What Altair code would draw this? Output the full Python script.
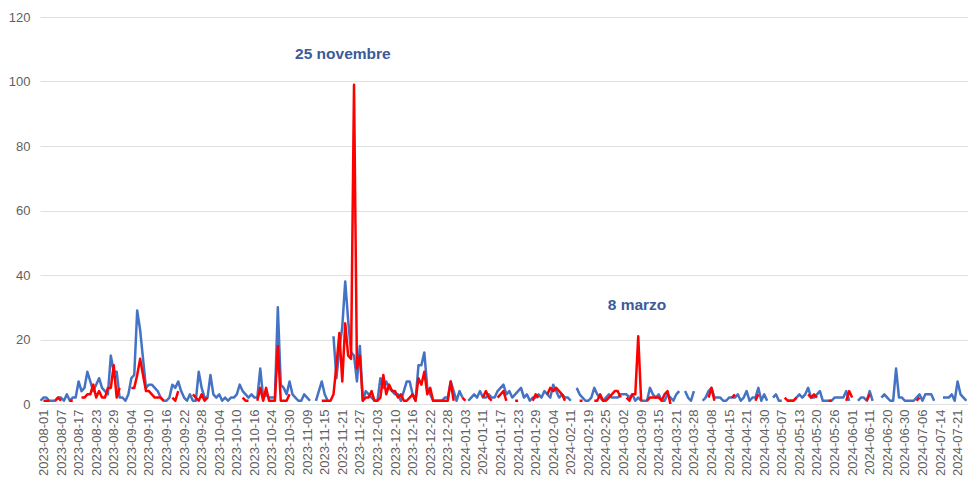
import altair as alt
import pandas as pd

# x-axis tick labels (one every 6 rows, first at row 1)
labels = ["2023-08-01","2023-08-07","2023-08-17","2023-08-23","2023-08-29","2023-09-04",
          "2023-09-10","2023-09-16","2023-09-22","2023-09-28","2023-10-04","2023-10-10",
          "2023-10-16","2023-10-24","2023-10-30","2023-11-09","2023-11-15","2023-11-21",
          "2023-11-27","2023-12-03","2023-12-10","2023-12-16","2023-12-22","2023-12-28",
          "2024-01-03","2024-01-11","2024-01-17","2024-01-23","2024-01-29","2024-02-04",
          "2024-02-11","2024-02-19","2024-02-25","2024-03-02","2024-03-09","2024-03-15",
          "2024-03-21","2024-03-28","2024-04-08","2024-04-15","2024-04-21","2024-04-30",
          "2024-05-07","2024-05-13","2024-05-20","2024-05-26","2024-06-01","2024-06-11",
          "2024-06-20","2024-06-30","2024-07-06","2024-07-14","2024-07-21"]

blue = [1,2,2,1,1,1,2,2,1,3,
        1,2,2,7,4,5,10,7,4,6,
        8,5,4,3,15,10,10,2,2,1,
        3,8,9,29,23,14,5,6,6,5,
        4,2,1,1,2,6,5,7,4,2,
        1,3,1,1,10,5,2,2,9,3,
        2,3,1,2,1,2,2,3,6,4,
        3,2,3,2,2,11,2,3,2,2,
        2,30,6,5,3,7,3,2,1,1,
        3,2,1,None,1,4,7,3,1,None,
        21,8,17,24,38,26,16,15,7,18,
        1,4,3,2,1,1,8,5,7,5,
        4,3,3,1,4,7,7,3,1,12,
        12,16,5,3,1,1,1,1,2,2,
        7,4,1,4,2,None,1,2,3,2,
        4,2,2,3,2,2,4,5,6,3,
        4,2,3,4,5,2,3,1,2,2,
        3,2,4,3,2,6,4,2,3,2,
        2,1,None,5,3,2,1,1,2,5,
        3,2,1,2,3,2,2,2,3,3,
        3,2,3,1,2,1,1,1,5,3,
        2,3,1,1,3,2,1,3,4,None,
        4,2,1,4,None,None,1,2,4,5,
        2,2,2,1,1,2,2,2,3,1,
        2,4,1,2,2,5,1,3,1,None,
        2,3,1,1,None,1,1,1,2,3,
        2,3,5,2,2,3,4,1,1,1,
        1,2,2,2,2,4,1,None,None,1,
        2,2,1,4,1,None,None,2,3,2,
        1,1,11,2,2,1,1,1,1,2,
        3,1,3,3,3,1,None,None,2,2,
        2,3,1,7,3,2,1,None,None,3,
        2,2,1]

red = [None,1,1,1,None,1,2,1,None,None,
       1,1,None,None,2,2,3,3,6,2,
       4,2,2,5,5,12,2,5,None,None,
       None,5,5,9,14,9,4,4,3,2,
       2,2,1,None,None,2,1,4,None,None,
       None,None,3,2,1,3,1,2,None,None,
       None,None,None,None,None,None,None,None,None,2,
       1,1,None,None,1,5,1,5,1,1,
       1,18,1,1,1,3,None,None,None,None,
       None,None,None,None,None,None,1,1,1,1,
       3,12,22,7,25,15,14,99,11,15,
       1,2,2,4,1,1,2,9,3,6,
       4,4,2,3,1,1,2,3,1,8,
       6,10,3,5,1,1,1,1,1,1,
       7,1,None,None,2,1,None,None,None,None,
       None,2,4,2,1,None,2,3,4,1,
       None,None,1,1,None,None,None,None,1,3,
       2,None,None,3,5,4,5,4,3,1,
       None,None,None,None,1,1,None,None,None,1,
       1,3,1,1,2,3,4,4,2,None,
       2,1,3,3,21,1,None,1,2,2,
       2,2,1,3,4,0,None,None,None,None,
       None,None,None,None,None,None,None,None,2,5,
       1,None,None,None,None,None,2,3,None,None,
       None,None,None,None,1,3,None,None,None,None,
       None,None,None,None,2,1,1,1,2,None,
       None,None,3,2,3,2,None,None,None,1,
       1,None,None,None,None,1,4,2,None,None,
       None,None,1,3,None,None,None,None,None,None,
       None,None,None,None,None,None,None,None,None,1,
       2,None,None,None,None,None,None,None,None,None,
       None,None,None,None,None,None,None,None,None,None,
       None,None,None]

notes = ["25 novembre", "8 marzo"]
note_x = [103.2, 203.6]
note_y = [108.5, 30.7]


def segments(values, name):
    rows = []
    seg = 0
    for i, v in enumerate(values):
        if v is None:
            seg += 1
            continue
        rows.append({"idx": i, "value": v, "seg": f"{name}{seg}"})
    return pd.DataFrame(rows)


df_blue = segments(blue, "b")
df_red = segments(red, "r")
df_notes = pd.DataFrame({"idx": note_x, "value": note_y, "text": notes})

label_js = "[" + ",".join(f"'{s}'" for s in labels) + "]"
tick_vals = [1 + 6 * k for k in range(len(labels))]

FONT = "Liberation Sans"
GRAY = "#5f5f5f"

X_MIN, X_MAX = -0.17, 316.55

x_enc = alt.X(
    "idx:Q",
    scale=alt.Scale(domain=[X_MIN, X_MAX], nice=False, zero=False),
    axis=alt.Axis(
        values=tick_vals,
        tickCount=200,
        labelExpr=f"{label_js}[round((datum.value-1)/6)]",
        labelAngle=-90,
        labelFontSize=13,
        labelFont=FONT,
        labelColor=GRAY,
        labelPadding=5,
        labelOverlap=False,
        labelSeparation=0,
        labelFlush=False,
        ticks=False,
        domain=False,
        grid=False,
        title=None,
    ),
)
y_enc = alt.Y(
    "value:Q",
    scale=alt.Scale(domain=[0, 120], nice=False),
    axis=alt.Axis(
        values=[0, 20, 40, 60, 80, 100, 120],
        labelFontSize=13,
        labelFont=FONT,
        labelColor=GRAY,
        labelPadding=10,
        ticks=False,
        domain=False,
        gridColor="#e0e0e0",
        gridWidth=1,
        title=None,
        minExtent=32,
        maxExtent=32,
    ),
)

blue_line = alt.Chart(df_blue).mark_line(
    color="#4472c4", strokeWidth=2.5, clip=True, strokeJoin="round"
).encode(x=x_enc, y=y_enc, detail="seg:N", order="idx:Q")

red_line = alt.Chart(df_red).mark_line(
    color="#ff0000", strokeWidth=2.5, clip=True, strokeJoin="round"
).encode(x=x_enc, y=y_enc, detail="seg:N", order="idx:Q")

text = alt.Chart(df_notes).mark_text(
    font=FONT, fontSize=15.5, fontWeight="bold", color="#3d5a99"
).encode(x="idx:Q", y="value:Q", text="text:N")

chart = (
    alt.layer(blue_line, red_line, text)
    .properties(width=928, height=387, padding={"left": 0, "top": 3, "right": 0, "bottom": 0})
    .configure_view(stroke=None)
    .configure_axis(labelOverlap=False)
)

chart.save("out.html", embed_options={"renderer": "svg", "actions": False})
